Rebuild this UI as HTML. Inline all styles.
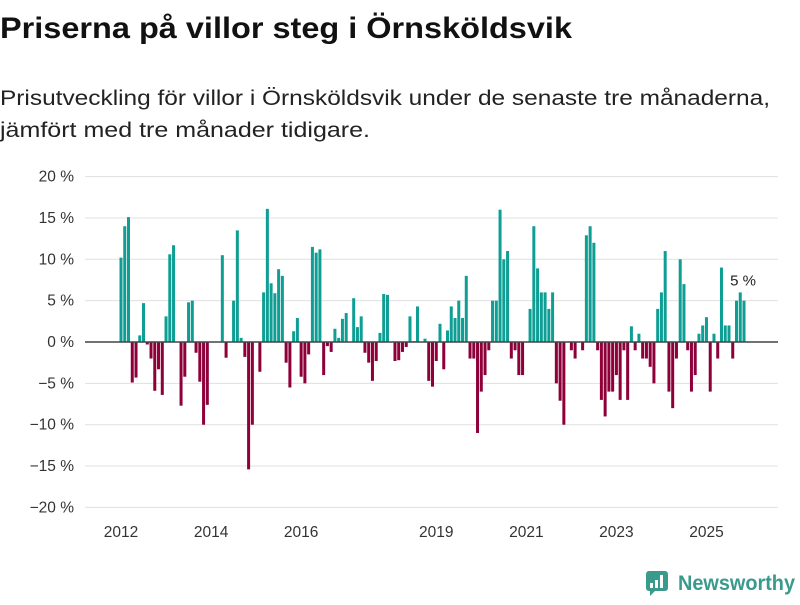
<!DOCTYPE html>
<html><head><meta charset="utf-8"><style>
body{margin:0;background:#fff;width:800px;height:600px;overflow:hidden;font-family:"Liberation Sans",sans-serif;}
</style></head><body>
<svg width="800" height="600" xmlns="http://www.w3.org/2000/svg">
<text x="0" y="38" font-size="30" font-weight="bold" fill="#111" textLength="572" lengthAdjust="spacingAndGlyphs" font-family="Liberation Sans, sans-serif">Priserna på villor steg i Örnsköldsvik</text>
<text x="0" y="105" font-size="21" fill="#222" textLength="770" lengthAdjust="spacingAndGlyphs" font-family="Liberation Sans, sans-serif">Prisutveckling för villor i Örnsköldsvik under de senaste tre månaderna,</text>
<text x="0" y="137" font-size="21" fill="#222" textLength="370" lengthAdjust="spacingAndGlyphs" font-family="Liberation Sans, sans-serif">jämfört med tre månader tidigare.</text>
<g id="grid"></g>
<g id="bars"></g>
<g id="xlabels"></g>
<g>
<rect x="646" y="571" width="22" height="20" rx="3" fill="#3a9a8c"/>
<polygon points="650,590 656,590 650,596" fill="#3a9a8c"/>
<rect x="650" y="583" width="3" height="5" fill="#fff"/><rect x="655" y="580" width="3" height="8" fill="#fff"/><rect x="660" y="575" width="3" height="13" fill="#fff"/>
<text x="678" y="590" font-size="21" font-weight="bold" fill="#3a9a8c" textLength="117" lengthAdjust="spacingAndGlyphs" font-family="Liberation Sans, sans-serif">Newsworthy</text>
</g>
</svg>
<script>
const values=[10.2,14,15.1,-4.9,-4.3,0.8,4.7,-0.3,-2,-5.9,-3.3,-6.4,3.1,10.6,11.7,0,-7.7,-4.2,4.8,5,-1.3,-4.8,-10,-7.6,0,0,0,10.5,-1.9,0,5,13.5,0.5,-1.8,-15.4,-10,0,-3.6,6,16.1,7.1,5.9,8.8,8,-2.5,-5.5,1.3,2.9,-4.2,-5,-1.5,11.5,10.8,11.2,-4,-0.5,-1.2,1.6,0.5,2.8,3.5,0,5.3,1.8,3.1,-1.3,-2.5,-4.7,-2.3,1.1,5.8,5.7,0,-2.3,-2.2,-1.2,-0.6,3.1,0.1,4.3,0,0.4,-4.7,-5.4,-2.3,2.2,-3.3,1.4,4.3,2.9,5,2.9,8,-2,-2,-11,-6,-4,-1,5,5,16,10,11,-2,-1,-4,-4,0,4,14,8.9,6,6,4,6,-5,-7.1,-10,0,-1,-2,0,-1,12.9,14,12,-1,-7,-9,-6,-6,-4,-7,-1,-7,1.9,-1,1,-2,-2,-3,-5,4,6,11,-6,-8,-2,10,7,-1,-6,-4,1,2,3,-6,1,-2,9,2,2,-2,5,6,5];
const yTicks=[20,15,10,5,0,-5,-10,-15,-20];
const xYears=[2012,2014,2016,2019,2021,2023,2025];
const startYear=2012;
const NS='http://www.w3.org/2000/svg';
function y(v){return 342-v*8.27;}
function x(i){return 121+i*3.753;}
const grid=document.getElementById('grid'),bars=document.getElementById('bars'),xl=document.getElementById('xlabels');
yTicks.forEach(t=>{
  if(t!==0){const l=document.createElementNS(NS,'line');
  l.setAttribute('x1',85);l.setAttribute('x2',778);l.setAttribute('y1',y(t));l.setAttribute('y2',y(t));
  l.setAttribute('stroke','#e0e0e0');l.setAttribute('stroke-width','1');
  
  
  grid.appendChild(l);}
  const tx=document.createElementNS(NS,'text');
  tx.setAttribute('x',74);tx.setAttribute('y',y(t)+5);tx.setAttribute('text-anchor','end');
  tx.setAttribute('font-size','15.5');tx.setAttribute('fill','#333');
  tx.textContent=(t<0?'\u2212'+(-t):t)+' %';
  
  
  grid.appendChild(tx);
});
values.forEach((v,i)=>{
  if(v===0)return;
  const r=document.createElementNS(NS,'rect');
  r.setAttribute('x',x(i)-1.5);r.setAttribute('width',3);
  r.setAttribute('y',Math.min(y(v),342));r.setAttribute('height',Math.abs(y(v)-342));
  r.setAttribute('fill',v>0?'#0e9e94':'#8d0039');
  
  
  bars.appendChild(r);
});
const zl=document.createElementNS(NS,'line');
zl.setAttribute('x1',85);zl.setAttribute('x2',778);zl.setAttribute('y1',342);zl.setAttribute('y2',342);
zl.setAttribute('stroke','#444');zl.setAttribute('stroke-width','1.5');


bars.appendChild(zl);
const last=values.length-1;
const lb=document.createElementNS(NS,'text');
lb.setAttribute('x',x(last)-1);lb.setAttribute('y',y(values[last])-15);lb.setAttribute('text-anchor','middle');
lb.setAttribute('font-size','15');lb.setAttribute('fill','#222');
lb.textContent=Math.round(values[last])+' %';


bars.appendChild(lb);
xYears.forEach(yr=>{
  const t=document.createElementNS(NS,'text');
  t.setAttribute('x',x((yr-startYear)*12));t.setAttribute('y',537);t.setAttribute('text-anchor','middle');
  t.setAttribute('font-size','15.5');t.setAttribute('fill','#333');
  t.textContent=yr;
  
  
  xl.appendChild(t);
});
</script>
</body></html>
